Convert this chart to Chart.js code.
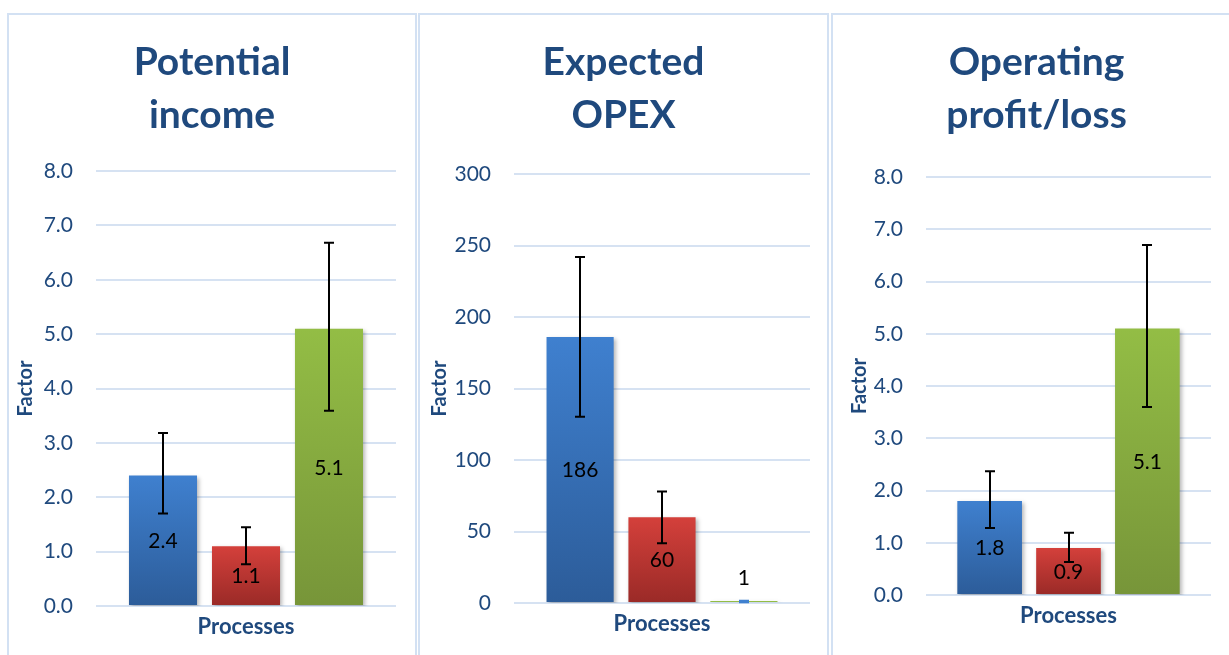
<!DOCTYPE html>
<html>
<head>
<meta charset="utf-8">
<script src="https://cdn.jsdelivr.net/npm/chart.js@4.4.1/dist/chart.umd.min.js"></script>
<style>
  html, body { margin: 0; padding: 0; background: #ffffff; width: 1229px; height: 655px; overflow: hidden; }
  .panel { position: absolute; top: 13px; height: 653px; border: 2px solid #D3E1F3; background: #ffffff; }
  .panel canvas { display: block; }
</style>
</head>
<body>
<div class="panel" style="left:7px;width:406px;"><canvas id="income" width="406" height="653"></canvas></div>
<div class="panel" style="left:418px;width:407px;"><canvas id="opex" width="407" height="653"></canvas></div>
<div class="panel" style="left:831px;width:407px;"><canvas id="profit" width="407" height="653"></canvas></div>

<script>
// ---- data ----
const categories = ['Processes'];
const seriesNames = ['Process 1', 'Process 2', 'Process 3'];

const incomeTitle = ['Potential', 'income'];
const incomeValues = [2.4, 1.1, 5.1];
const incomeErrLow = [1.70, 0.77, 3.59];
const incomeErrHigh = [3.18, 1.45, 6.68];
const incomeTicks = { min: 0, max: 8, step: 1, decimals: 1 };

const opexTitle = ['Expected', 'OPEX'];
const opexValues = [186, 60, 1];
const opexErrLow = [130.3, 41.8, 0.5];
const opexErrHigh = [242, 77.9, 1.5];
const opexTicks = { min: 0, max: 300, step: 50, decimals: 0 };

const profitTitle = ['Operating', 'profit/loss'];
const profitValues = [1.8, 0.9, 5.1];
const profitErrLow = [1.28, 0.63, 3.60];
const profitErrHigh = [2.37, 1.19, 6.70];
const profitTicks = { min: 0, max: 8, step: 1, decimals: 1 };

const axisTitle = 'Factor';

// ---- styling ----
const FONT = 'Lato, "Open Sans", "DejaVu Sans", sans-serif';
const NAVY = '#1F497D';
const GRID = '#D6E2F2';
const barTops = ['#3F80CF', '#D4403B', '#93BD45'];
const barBottoms = ['#2C5C99', '#9A2A27', '#779539'];

// vertical gradient spanning each bar from its top to the baseline
function barFill(i) {
  return (ctx) => {
    const chart = ctx.chart;
    if (!chart.chartArea || ctx.type !== 'data' || !chart.scales.y) return barBottoms[i];
    const ys = chart.scales.y;
    const yTop = ys.getPixelForValue(ctx.parsed.y);
    const yBase = ys.getPixelForValue(0);
    if (Math.abs(yBase - yTop) < 4) return barTops[i];
    const g = chart.ctx.createLinearGradient(0, yTop, 0, yBase);
    g.addColorStop(0, barTops[i]);
    g.addColorStop(1, barBottoms[i]);
    return g;
  };
}

// soft shadow under bars, then error bars and value labels on top
const barDecor = {
  id: 'barDecor',
  beforeDatasetsDraw(chart) {
    const c = chart.ctx;
    c.save();
    c.shadowColor = 'rgba(0,0,0,0.28)';
    c.shadowBlur = 4;
    c.shadowOffsetX = 2;
    c.shadowOffsetY = 2;
  },
  afterDatasetsDraw(chart, args, opts) {
    const c = chart.ctx;
    c.restore();
    const ys = chart.scales.y;
    // error bars
    c.save();
    c.lineWidth = 2;
    chart.data.datasets.forEach((ds, i) => {
      const bar = chart.getDatasetMeta(i).data[0];
      if (!bar) return;
      const x = Math.round(bar.x);
      const yH = ys.getPixelForValue(opts.high[i]);
      const yL = ys.getPixelForValue(opts.low[i]);
      const half = opts.cap / 2;
      c.strokeStyle = opts.colors[i];
      c.beginPath();
      c.moveTo(x, yH); c.lineTo(x, yL);
      c.moveTo(x - half, yH); c.lineTo(x + half, yH);
      c.moveTo(x - half, yL); c.lineTo(x + half, yL);
      c.stroke();
    });
    c.restore();
    // value labels
    c.save();
    c.font = '21px ' + FONT;
    c.fillStyle = '#000000';
    c.textAlign = 'center';
    c.textBaseline = 'middle';
    chart.data.datasets.forEach((ds, i) => {
      const bar = chart.getDatasetMeta(i).data[0];
      if (!bar) return;
      const v = ds.data[0];
      const h = Math.abs(bar.base - bar.y);
      const y = h < 26 ? bar.y - 24 : (bar.y + bar.base) / 2;
      c.fillText(v.toFixed(opts.decimals), bar.x, y + 1);
    });
    c.restore();
  }
};

function makeChart(id, title, values, errLow, errHigh, ticks, layout) {
  const datasets = seriesNames.map((name, i) => ({
    label: name,
    data: [values[i]],
    backgroundColor: barFill(i),
    borderWidth: 0,
    minBarLength: 2,
    categoryPercentage: 0.83,
    barPercentage: 0.82
  }));
  return new Chart(document.getElementById(id), {
    type: 'bar',
    data: { labels: categories, datasets },
    plugins: [barDecor],
    options: {
      responsive: false,
      animation: false,
      events: [],
      layout: { padding: { left: layout.side, right: layout.side, top: 0, bottom: 0 } },
      plugins: {
        legend: { display: false },
        tooltip: { enabled: false },
        title: {
          display: true,
          text: title,
          color: NAVY,
          font: { family: FONT, size: 39, weight: 'bold', lineHeight: 53 / 39 },
          padding: { top: 20.5, bottom: layout.titleGap }
        },
        barDecor: {
          low: errLow,
          high: errHigh,
          colors: layout.errColors,
          cap: 10,
          decimals: ticks.decimals
        }
      },
      scales: {
        x: {
          grid: { display: false, drawTicks: false },
          border: { display: false },
          ticks: { color: NAVY, padding: 8, font: { family: FONT, size: 22, weight: 'bold' } },
          afterFit: (s) => { s.height = layout.bottom; }
        },
        y: {
          min: ticks.min,
          max: ticks.max,
          grid: { color: GRID, lineWidth: 2, drawTicks: false },
          border: { display: false },
          ticks: {
            stepSize: ticks.step,
            padding: 23,
            color: NAVY,
            font: { family: FONT, size: 21 },
            callback: (v) => Number(v).toFixed(ticks.decimals)
          },
          title: {
            display: true,
            text: axisTitle,
            color: NAVY,
            font: { family: FONT, size: 20, weight: 'bold' },
            padding: { top: layout.axisTitlePad, bottom: 0 }
          },
          afterFit: (s) => { s.width = layout.axisWidth; }
        }
      }
    }
  });
}

function drawAll() {
  makeChart('income', incomeTitle, incomeValues, incomeErrLow, incomeErrHigh, incomeTicks,
    { side: 19, axisWidth: 68, bottom: 62, titleGap: 29.5, axisTitlePad: -14, errColors: ['#000', '#000', '#000'] });
  makeChart('opex', opexTitle, opexValues, opexErrLow, opexErrHigh, opexTicks,
    { side: 17, axisWidth: 77, bottom: 65, titleGap: 32.5, axisTitlePad: -9.5, errColors: ['#000', '#000', '#3F80CF'] });
  makeChart('profit', profitTitle, profitValues, profitErrLow, profitErrHigh, profitTicks,
    { side: 29, axisWidth: 64, bottom: 73, titleGap: 35.5, axisTitlePad: -14, errColors: ['#000', '#000', '#000'] });
}

if (document.fonts && document.fonts.load) {
  Promise.all([
    document.fonts.load('bold 39px Lato'),
    document.fonts.load('21px Lato')
  ]).then(drawAll, drawAll);
} else {
  drawAll();
}
</script>
</body>
</html>
